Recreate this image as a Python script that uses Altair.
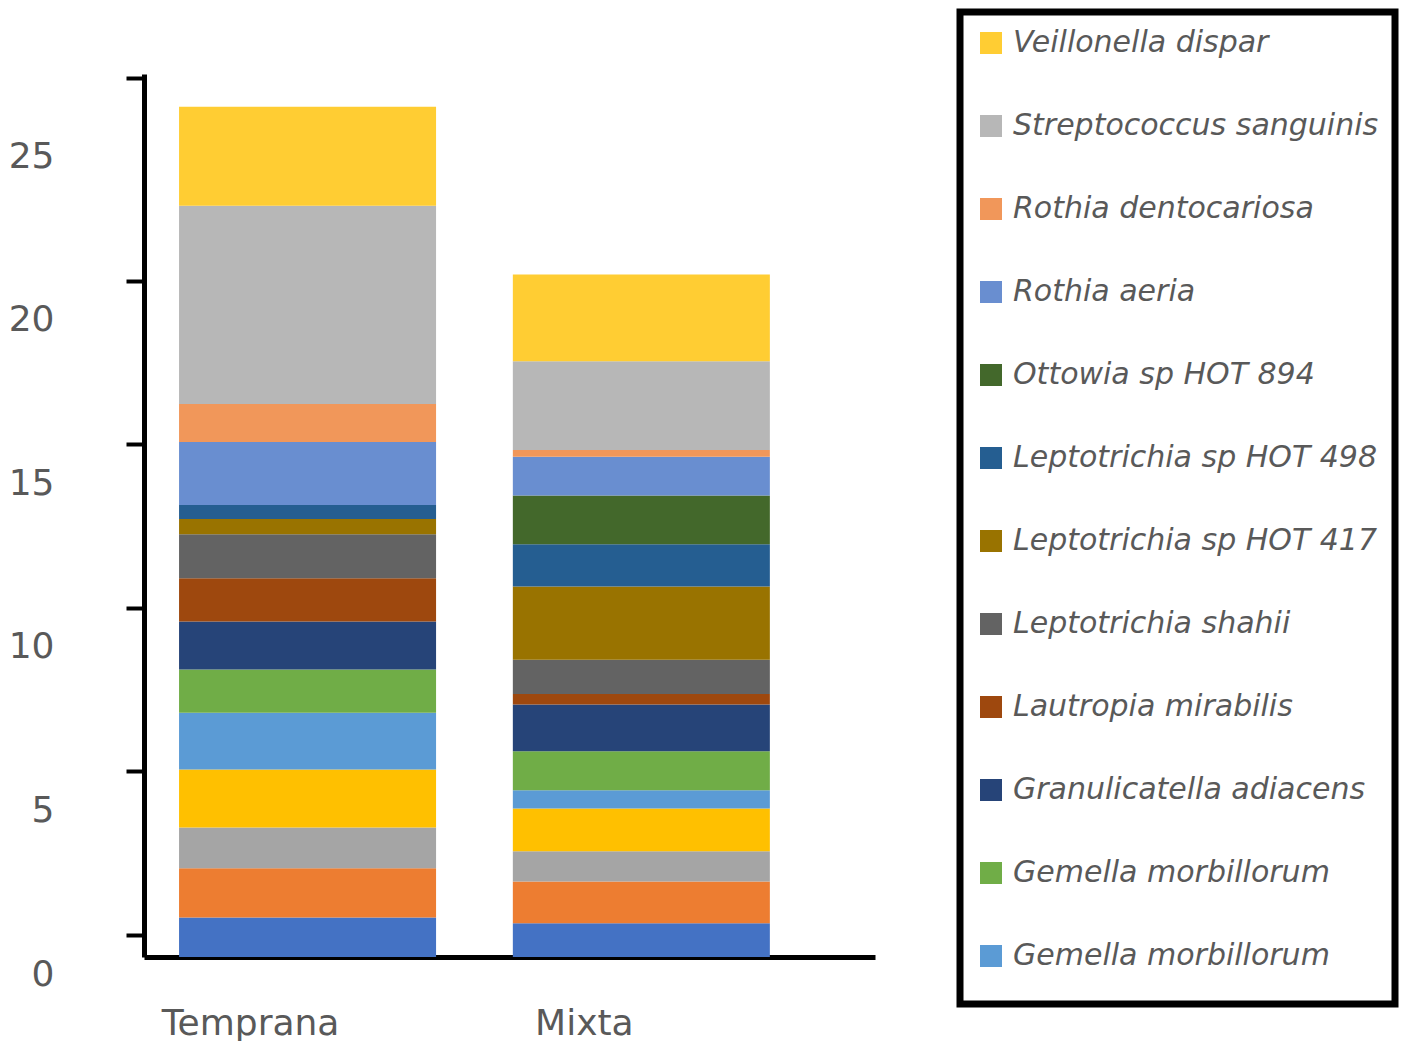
import altair as alt
import pandas as pd

# stacked abundance per group, bottom segment first
groups = ["Temprana", "Mixta"]

species = [
    "Especie 1", "Especie 2", "Especie 3", "Especie 4",
    "Gemella morbillorum", "Gemella morbillorum",
    "Granulicatella adiacens", "Lautropia mirabilis", "Leptotrichia shahii",
    "Leptotrichia sp HOT 417", "Leptotrichia sp HOT 498", "Ottowia sp HOT 894",
    "Rothia aeria", "Rothia dentocariosa", "Streptococcus sanguinis",
    "Veillonella dispar",
]
temprana = [1.21, 1.50, 1.25, 1.77, 1.74, 1.32, 1.47, 1.32, 1.35, 0.46, 0.43,
            0.0, 1.93, 1.16, 6.06, 3.03]
mixta = [1.03, 1.28, 0.92, 1.31, 0.56, 1.19, 1.43, 0.32, 1.05, 2.24, 1.29,
         1.49, 1.19, 0.20, 2.72, 2.65]
colors = [
    "#4472C4", "#ED7D31", "#A5A5A5", "#FFC000", "#5B9BD5", "#70AD47",
    "#264478", "#9E480E", "#636363", "#997300", "#255E91", "#43682B",
    "#698ED0", "#F1975A", "#B7B7B7", "#FFCD33",
]
# legend shows only the top twelve, top of stack first
legend_keys = list(range(15, 3, -1))

# y ticks: the top mark sits at the end of the axis, 25 keeps only its label
y_ticks = [0, 5, 10, 15, 20, 25, 26.2]

rows = []
for g, vals in zip(groups, [temprana, mixta]):
    for i, v in enumerate(vals):
        rows.append({"grupo": g, "idx": i, "especie": species[i], "valor": v})
df = pd.DataFrame(rows)

label_expr = "[" + ",".join(f"'{s}'" for s in species) + "][datum.value]"

chart = (
    alt.Chart(df)
    .mark_bar()
    .encode(
        x=alt.X(
            "grupo:N",
            sort=groups,
            title=None,
            scale=alt.Scale(paddingInner=0.23, paddingOuter=0.21, align=0.25),
            axis=alt.Axis(
                labelAngle=0, ticks=False, labelPadding=49, labelOffset=-57,
                labelFontSize=36, labelColor="#595959",
                domainColor="black", domainWidth=5,
            ),
        ),
        y=alt.Y(
            "valor:Q",
            stack="zero",
            title=None,
            scale=alt.Scale(domain=[0, 27], nice=False),
            axis=alt.Axis(
                values=y_ticks, grid=False,
                labelExpr="datum.value > 25 ? '' : datum.label",
                tickOpacity=alt.condition("datum.value == 25", alt.value(0), alt.value(1)),
                tickSize=18, tickWidth=4, tickColor="black",
                tickOffset=-22, labelOffset=39, labelPadding=72,
                labelFontSize=36, labelColor="#595959",
                domainColor="black", domainWidth=5,
            ),
        ),
        color=alt.Color(
            "idx:N",
            scale=alt.Scale(domain=list(range(16)), range=colors),
            legend=alt.Legend(
                values=legend_keys,
                labelExpr=label_expr,
                orient="none", legendX=816, legendY=-62,
                title=" ", titleOrient="bottom", titleFontSize=1, titlePadding=16,
            ),
        ),
        order=alt.Order("idx:Q", sort="ascending"),
    )
    .properties(width=731, height=883, padding=0)
    .configure(font="DejaVu Sans")
    .configure_view(stroke=None)
    .configure_legend(
        strokeColor="black", strokeWidth=7, padding=16, rowPadding=53,
        symbolType="square", symbolSize=484, symbolStrokeWidth=0,
        labelFontSize=30, labelFontStyle="italic", labelColor="#595959",
        labelOffset=7, labelLimit=600,
    )
)

chart.save("out.html", embed_options={"renderer": "svg", "actions": False})
